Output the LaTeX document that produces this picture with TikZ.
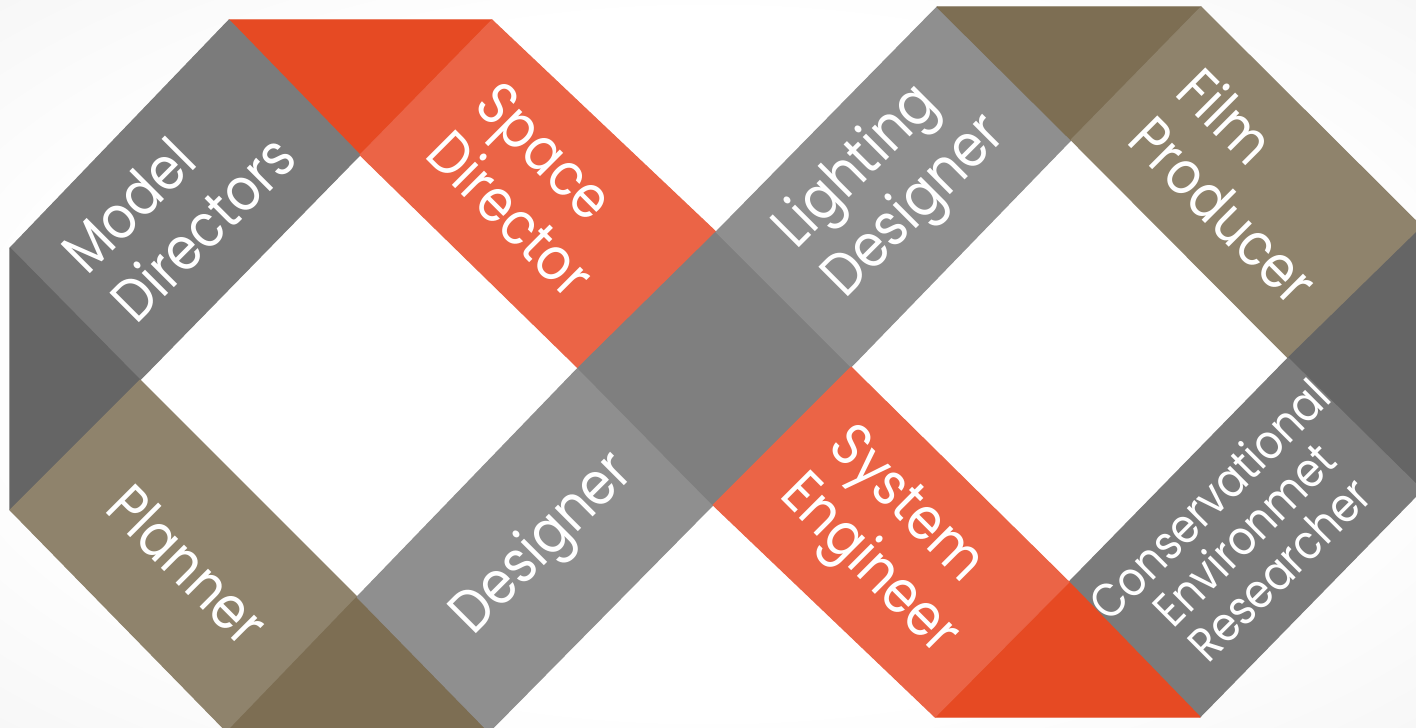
\documentclass[tikz,border=0pt]{standalone}
\usepackage{fontspec}
\setmainfont{Poppins}
\newfontfamily\lblfont[FakeStretch=0.87]{Poppins}
\definecolor{redD}{HTML}{E64A23}
\definecolor{redL}{HTML}{EB6446}
\definecolor{grayM}{HTML}{7B7B7B}
\definecolor{grayX}{HTML}{7F7F7F}
\definecolor{grayL}{HTML}{8F8F8F}
\definecolor{grayD}{HTML}{656565}
\definecolor{brownD}{HTML}{7D6E53}
\definecolor{brownL}{HTML}{8F836C}
\definecolor{bgW}{HTML}{FFFFFF}
\definecolor{bgG}{HTML}{EDEDED}
\pgfdeclareradialshading{bgshade}{\pgfpoint{0bp}{0bp}}{color(0bp)=(bgW); color(24bp)=(bgW); color(50bp)=(bgG); color(72bp)=(bgG)}
\tikzset{
  band/.style={fill=#1, draw=#1, line width=0.3pt, line join=round},
  lbl/.style={text=white, font=\lblfont\fontsize{17}{19.5}\selectfont, align=left, inner sep=0pt},
  lblsmall/.style={text=white, font=\lblfont\fontsize{13.6}{14}\selectfont, align=center, inner sep=0pt}
}
\begin{document}
\begin{tikzpicture}[x=0.01cm, y=-0.01cm]
\useasboundingbox (0,0) rectangle (1416,728);
\clip (0,0) rectangle (1416,728);
\shade[shading=bgshade] (0,0) rectangle (1416,728);
% key points
\coordinate (p1) at (229,20);
\coordinate (p2) at (492,20);
\coordinate (p3) at (360,155);
\coordinate (p4) at (10,248);
\coordinate (p5) at (140,380);
\coordinate (p6) at (10,510);
\coordinate (p7) at (357,597);
\coordinate (p8) at (227,732);
\coordinate (p9) at (489,732);
\coordinate (p10) at (578,368);
\coordinate (p11) at (716,232);
\coordinate (p12) at (713,505);
\coordinate (p13) at (851,367);
\coordinate (p14) at (937,7);
\coordinate (p15) at (1201,7);
\coordinate (p16) at (1071,140);
\coordinate (p17) at (1422,227);
\coordinate (p18) at (1288,358);
\coordinate (p19) at (1422,490);
\coordinate (p20) at (1069,582);
\coordinate (p21) at (1200,717);
\coordinate (p22) at (935,717);
% left loop
\path[band=redD] (p1) -- (p2) -- (p3) -- cycle;
\path[band=grayM] (p1) -- (p3) -- (p5) -- (p4) -- cycle;
\path[band=grayD] (p4) -- (p5) -- (p6) -- cycle;
\path[band=brownL] (p6) -- (p5) -- (p7) -- (p8) -- cycle;
\path[band=brownD] (p8) -- (p7) -- (p9) -- cycle;
\path[band=grayL] (p7) -- (p10) -- (p12) -- (p9) -- cycle;
\path[band=redL] (p2) -- (p11) -- (p10) -- (p3) -- cycle;
% crossing
\path[band=grayX] (p10) -- (p11) -- (p13) -- (p12) -- cycle;
% right loop
\path[band=grayL] (p14) -- (p16) -- (p13) -- (p11) -- cycle;
\path[band=brownD] (p14) -- (p15) -- (p16) -- cycle;
\path[band=brownL] (p15) -- (p17) -- (p18) -- (p16) -- cycle;
\path[band=grayD] (p17) -- (p19) -- (p18) -- cycle;
\path[band=grayM] (p18) -- (p19) -- (p21) -- (p20) -- cycle;
\path[band=redD] (p20) -- (p21) -- (p22) -- cycle;
\path[band=redL] (p22) -- (p20) -- (p13) -- (p12) -- cycle;
% labels
\node[lbl, rotate=45, anchor=west] (tModel) at (96,286) {Model\\Directors};
\node[lbl, rotate=-45, anchor=west] (tSpace) at (462,117) {Space\\Director};
\node[lbl, rotate=-45, anchor=base west] (tPlanner) at (103,510) {Planner};
\node[lbl, rotate=45, anchor=base west] (tDesigner) at (473,637) {Designer};
\node[lbl, rotate=45, anchor=west] (tLight) at (810,265) {Lighting\\Designer};
\node[lbl, rotate=-45, anchor=west] (tFilm) at (1165,102) {Film\\Producer};
\node[lbl, rotate=-45, anchor=west] (tSys) at (811,463) {System\\Engineer};
\node[lblsmall, rotate=45] (tCons) at (1244,534) {Conservational\\Environmet\\Researcher};
\end{tikzpicture}
\end{document}
